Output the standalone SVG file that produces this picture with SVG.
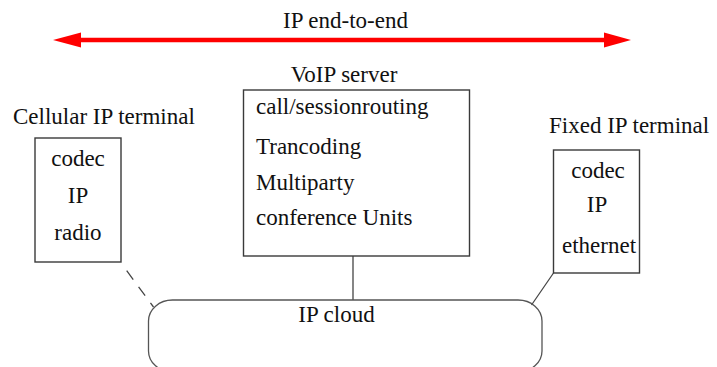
<svg xmlns="http://www.w3.org/2000/svg" width="717" height="367" viewBox="0 0 717 367">
<style>
text{font-family:"Liberation Serif","Times New Roman",serif;font-size:23px;fill:#111}
.c{text-anchor:middle}
.box{fill:none;stroke:#3a3a3a;stroke-width:1.4}
.ln{fill:none;stroke:#444;stroke-width:1.3}
</style>
<rect width="717" height="367" fill="#fff"/>
<g id="end-to-end">
<line x1="78" y1="40" x2="607" y2="40" stroke="#f00" stroke-width="4.5"/>
<polygon points="53,40 81,32.5 81,47.5" fill="#f00"/>
<polygon points="631,40 604,32.5 604,47.5" fill="#f00"/>
<text class="c" x="345.5" y="28">IP end-to-end</text>
</g>
<g id="connectors">
<line class="ln" x1="126.7" y1="270.7" x2="153.5" y2="307" stroke-dasharray="11,9"/>
<line class="ln" x1="353" y1="256" x2="353" y2="300"/>
<line class="ln" x1="553.5" y1="273" x2="531.5" y2="305"/>
</g>
<g id="cellular">
<text x="13" y="124">Cellular IP terminal</text>
<rect class="box" x="35" y="138" width="86" height="124"/>
<text class="c" x="78" y="166">codec</text>
<text class="c" x="78" y="203">IP</text>
<text class="c" x="78" y="240">radio</text>
</g>
<g id="voip">
<text class="c" x="344" y="82">VoIP server</text>
<rect class="box" x="243.5" y="90" width="226" height="166"/>
<text x="256" y="114">call/sessionrouting</text>
<text x="256" y="154">Trancoding</text>
<text x="256" y="190">Multiparty</text>
<text x="256" y="225">conference Units</text>
</g>
<g id="fixed">
<text x="549" y="133">Fixed IP terminal</text>
<rect class="box" x="553.5" y="150" width="86" height="123"/>
<text class="c" x="598" y="178">codec</text>
<text class="c" x="597" y="212">IP</text>
<text class="c" x="599" y="253">ethernet</text>
</g>
<g id="cloud">
<rect x="148.5" y="300" width="393.5" height="72" rx="24" ry="21" fill="none" stroke="#555" stroke-width="1.3"/>
<text class="c" x="336.5" y="322">IP cloud</text>
</g>
</svg>
